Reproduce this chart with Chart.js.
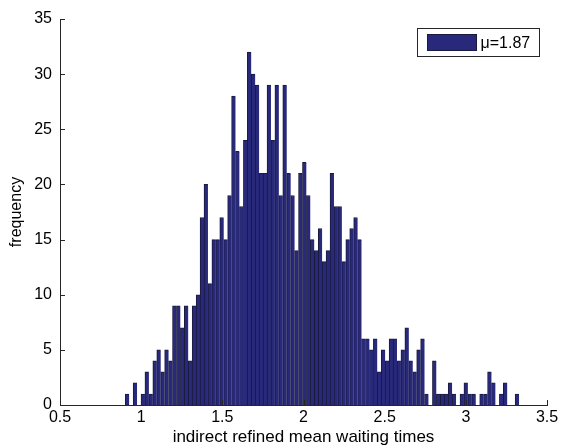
<!DOCTYPE html>
<html>
<head>
<meta charset="utf-8">
<script src="https://cdn.jsdelivr.net/npm/chart.js@4/dist/chart.umd.min.js"></script>
<style>
  html, body { margin: 0; padding: 0; background: #fff; }
  canvas { display: block; }
</style>
</head>
<body>
<canvas id="hist" width="562" height="448"></canvas>
<script>
// histogram bins
const binStart = 0.902;
const binWidth = 0.02426;
const counts = [
  1, 0, 2, 0, 1, 3, 1, 4, 5, 3,
  5, 4, 9, 9, 7, 9, 4, 9, 10, 17,
  20, 11, 15, 15, 17, 15, 19, 28, 23, 18,
  24, 32, 30, 29, 21, 21, 29, 24, 29, 19,
  29, 21, 19, 14, 21, 22, 19, 15, 14, 16,
  13, 14, 21, 18, 18, 13, 15, 16, 17, 15,
  6, 6, 5, 6, 3, 5, 4, 6, 6, 4,
  5, 7, 4, 3, 5, 6, 1, 0, 4, 1,
  1, 1, 2, 1, 0, 1, 2, 1, 1, 0,
  1, 1, 3, 2, 0, 1, 2, 0, 0, 1
];
const legendLabel = 'μ=1.87';
const xTicks = [0.5, 1, 1.5, 2, 2.5, 3, 3.5];
const yTicks = [0, 5, 10, 15, 20, 25, 30, 35];

const barColor = '#28297a';
const edgeColor = '#1a1a3c';
const axisColor = '#262626';
const font = { family: '"Liberation Sans", Arial, sans-serif', size: 16 };
const titleFont = { family: '"Liberation Sans", Arial, sans-serif', size: 17 };

const points = counts.map((c, i) => ({ x: binStart + (i + 0.5) * binWidth, y: c }));

// matlab style ticks pointing into the plot
const inwardTicks = {
    id: 'inwardTicks',
    afterDatasetsDraw(chart) {
        const { ctx, chartArea, scales: { x, y } } = chart;
        ctx.save();
        ctx.strokeStyle = axisColor;
        ctx.lineWidth = 1;
        ctx.beginPath();
        x.ticks.forEach(t => {
            const px = Math.round(x.getPixelForValue(t.value)) + 0.5;
            ctx.moveTo(px, chartArea.bottom);
            ctx.lineTo(px, chartArea.bottom - 5);
        });
        y.ticks.forEach(t => {
            const py = Math.round(y.getPixelForValue(t.value)) + 0.5;
            ctx.moveTo(chartArea.left, py);
            ctx.lineTo(chartArea.left + 5, py);
        });
        ctx.stroke();
        ctx.restore();
    }
};

// boxed legend in the top right corner
const boxLegend = {
    id: 'boxLegend',
    afterDraw(chart) {
        const { ctx, chartArea } = chart;
        const ds = chart.data.datasets[0];
        const w = 122, h = 28;
        const x0 = Math.round(chartArea.right - 8 - w) + 0.5;
        const y0 = Math.round(chartArea.top + 9) + 0.5;
        ctx.save();
        ctx.fillStyle = '#fff';
        ctx.fillRect(x0, y0, w, h);
        ctx.strokeStyle = axisColor;
        ctx.lineWidth = 1;
        ctx.strokeRect(x0, y0, w, h);
        ctx.fillStyle = ds.backgroundColor;
        ctx.fillRect(x0 + 10, y0 + 6, 49, 16);
        ctx.strokeStyle = ds.borderColor;
        ctx.strokeRect(x0 + 10, y0 + 6, 49, 16);
        ctx.fillStyle = '#000';
        ctx.font = font.size + 'px ' + font.family;
        ctx.textBaseline = 'middle';
        ctx.fillText(ds.label, x0 + 63, y0 + h / 2 + 1);
        ctx.restore();
    }
};

new Chart(document.getElementById('hist'), {
    type: 'bar',
    data: {
        datasets: [{
            label: legendLabel,
            data: points,
            backgroundColor: barColor,
            borderColor: edgeColor,
            borderWidth: { top: 1, left: 1, right: 0, bottom: 0 },
            borderSkipped: false,
            barPercentage: 1,
            categoryPercentage: 1
        }]
    },
    options: {
        responsive: false,
        animation: false,
        layout: { padding: { top: 19, right: 15, left: 0, bottom: 0 } },
        plugins: {
            legend: { display: false },
            tooltip: { enabled: false }
        },
        scales: {
            x: {
                type: 'linear',
                min: 0.5,
                max: 3.5,
                offset: false,
                afterBuildTicks: s => { s.ticks = xTicks.map(v => ({ value: v })); },
                afterFit: s => { s.height = 43; },
                grid: { display: false, drawTicks: false, offset: false },
                border: { display: true, color: axisColor, width: 1 },
                ticks: {
                    color: '#000',
                    font: font,
                    padding: 3,
                    maxRotation: 0,
                    callback: v => String(+v.toFixed(2))
                },
                title: {
                    display: true,
                    text: 'indirect refined mean waiting times',
                    color: '#000',
                    font: titleFont,
                    padding: { top: 0, bottom: 0 }
                }
            },
            y: {
                min: 0,
                max: 35,
                afterBuildTicks: s => { s.ticks = yTicks.map(v => ({ value: v })); },
                afterFit: s => { s.width = 60; },
                grid: { display: false, drawTicks: false },
                border: { display: true, color: axisColor, width: 1 },
                ticks: {
                    color: '#000',
                    font: font,
                    padding: 8
                },
                title: {
                    display: true,
                    text: 'frequency',
                    color: '#000',
                    font: font,
                    padding: { top: 7, bottom: 0 }
                }
            }
        }
    },
    plugins: [inwardTicks, boxLegend]
});
</script>
</body>
</html>
